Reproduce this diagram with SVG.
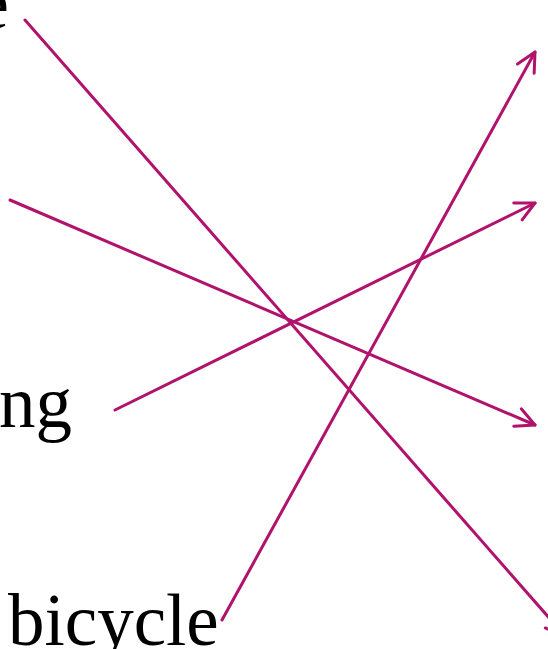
<svg xmlns="http://www.w3.org/2000/svg" width="548" height="649" viewBox="0 0 548 649">
<style>
.lbl{font-family:"Liberation Serif","DejaVu Serif",serif;font-size:73px;fill:#000}
.edge{stroke:#B0126C;stroke-width:3;fill:none;stroke-linecap:round;marker-end:url(#arr)}
</style>
<defs>
<marker id="arr" markerUnits="userSpaceOnUse" viewBox="-22 -12 26 24" refX="0" refY="0" markerWidth="26" markerHeight="24" orient="auto" overflow="visible">
<path d="M-19,-9.5 L0,0 L-19,9.5" fill="none" stroke="#B0126C" stroke-width="3" stroke-linecap="round" stroke-linejoin="round"/>
</marker>
</defs>
<rect width="548" height="649" fill="#fff"/>
<g id="node-e"><text class="lbl" x="9" y="28" text-anchor="end">e</text></g>
<g id="node-ng"><text class="lbl" x="72" y="427" text-anchor="end">ng</text></g>
<g id="node-bicycle"><text class="lbl" x="8" y="645">bicycle</text></g>
<g id="connectors">
<line class="edge" x1="25" y1="20" x2="565" y2="636"/>
<line class="edge" x1="10" y1="200" x2="535" y2="425"/>
<line class="edge" x1="115" y1="410" x2="535" y2="203"/>
<line class="edge" x1="222" y1="620" x2="535" y2="52"/>
</g>
</svg>
